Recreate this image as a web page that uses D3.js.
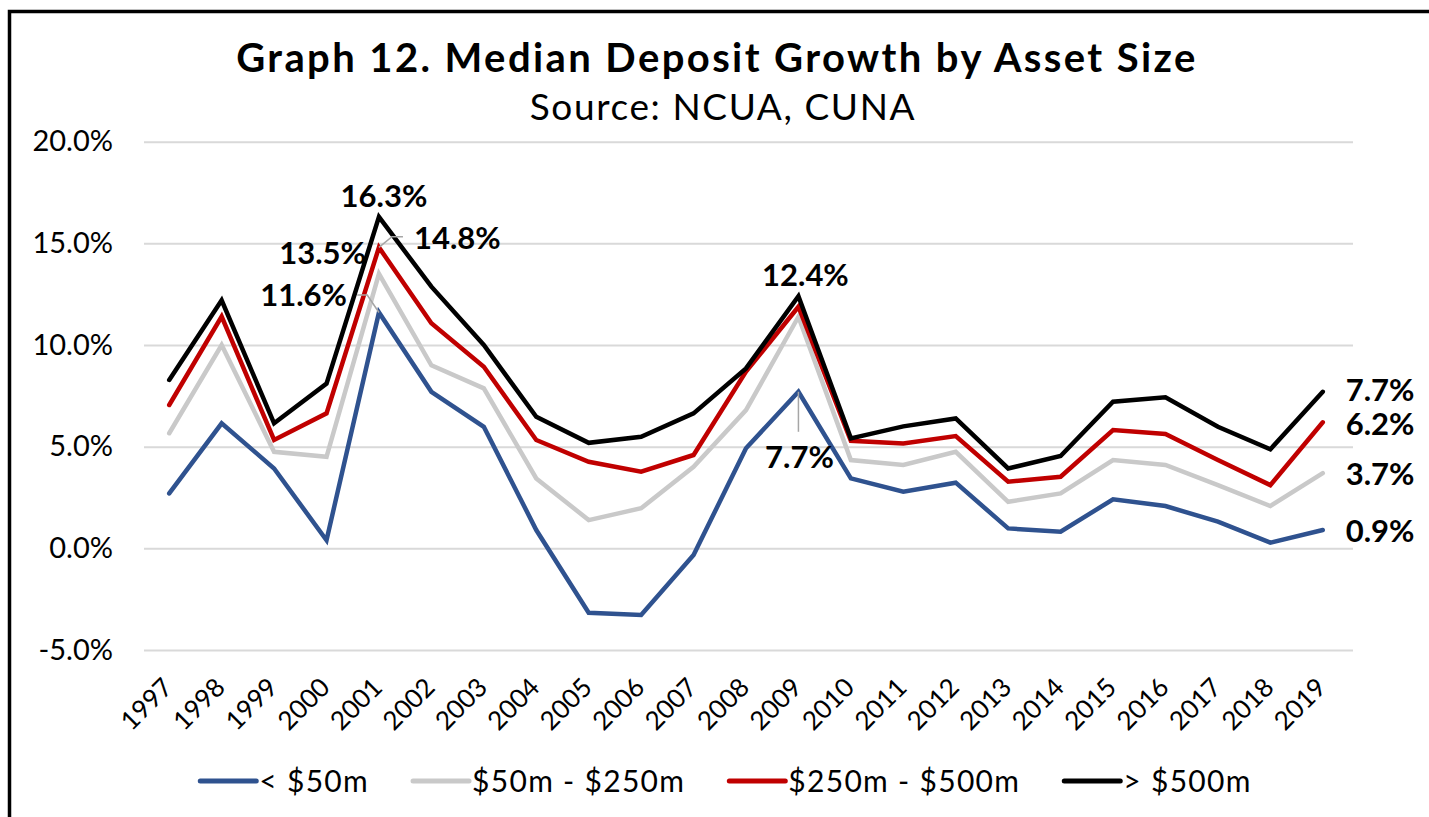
<!DOCTYPE html>
<html>
<head>
<meta charset="utf-8">
<script src="https://cdn.jsdelivr.net/npm/d3@7"></script>
<style>
  body { margin: 0; background: #fff; }
  text { font-family: Lato, "Open Sans", sans-serif; fill: #000; }
</style>
</head>
<body>
<div id="chart"></div>
<script>
// values (percent)
const years = ["1997", "1998", "1999", "2000", "2001", "2002", "2003", "2004", "2005", "2006", "2007", "2008",
               "2009", "2010", "2011", "2012", "2013", "2014", "2015", "2016", "2017", "2018", "2019"];
const under50m = [2.7, 6.15, 3.93, 0.4, 11.6, 7.7, 5.98, 0.9, -3.17, -3.28, -0.33, 4.92,
                  7.7, 3.44, 2.79, 3.23, 0.98, 0.82, 2.41, 2.08, 1.31, 0.28, 0.9];
const from50to250m = [5.66, 10.0, 4.75, 4.5, 13.5, 9.0, 7.87, 3.44, 1.39, 1.97, 4.01, 6.8,
                      11.39, 4.34, 4.1, 4.75, 2.29, 2.7, 4.34, 4.1, 3.11, 2.08, 3.7];
const from250to500m = [7.05, 11.4, 5.33, 6.64, 14.8, 11.07, 8.93, 5.33, 4.26, 3.77, 4.59, 8.69,
                       11.88, 5.29, 5.16, 5.52, 3.28, 3.52, 5.82, 5.62, 4.34, 3.11, 6.2];
const over500m = [8.28, 12.2, 6.15, 8.1, 16.3, 12.87, 10.0, 6.47, 5.19, 5.49, 6.64, 8.85,
                  12.4, 5.41, 6.0, 6.39, 3.93, 4.54, 7.21, 7.43, 5.98, 4.87, 7.7];
const seriesNames = ["< $50m", "$50m - $250m", "$250m - $500m", "> $500m"];
const yTicks = [-5, 0, 5, 10, 15, 20];

const colors = ["#2f528f", "#c9c9c9", "#c00000", "#000000"];

// which points carry a data label, and where the label sits relative to the point
const labelLayout = [
  { s: 3, year: "2001", dx: 5, dy: -10, anchor: "middle" },
  { s: 2, year: "2001", dx: 35, dy: 1.5, anchor: "start", leader: [[0, 0], [13, -10.7], [24, -10.7]] },
  { s: 1, year: "2001", dx: -13, dy: -10, anchor: "end" },
  { s: 0, year: "2001", dx: -32, dy: -6.5, anchor: "end", leader: [[0, 0], [-11.7, -17.4], [-21.7, -17.4]] },
  { s: 3, year: "2009", dx: 7, dy: -10.7, anchor: "middle" },
  { s: 0, year: "2009", dx: 1, dy: 76.7, anchor: "middle", leader: [[0, 0], [0, 40]] },
  { s: 3, year: "2019", dx: 23, dy: 8.8, anchor: "start" },
  { s: 2, year: "2019", dx: 23, dy: 13, anchor: "start" },
  { s: 1, year: "2019", dx: 23, dy: 11.6, anchor: "start" },
  { s: 0, year: "2019", dx: 23, dy: 11.6, anchor: "start" }
];

const series = [under50m, from50to250m, from250to500m, over500m].map((values, i) => ({
  name: seriesNames[i], color: colors[i], values: values
}));

const pct = (d) => (d < 0 ? "-" : "") + d3.format(".1f")(Math.abs(d)) + "%";

const w = 1429;
const h = 817;

const svg = d3.select("#chart")
  .append("svg")
  .attr("width", w)
  .attr("height", h);

// frame (runs off the right and bottom of the picture)
svg.append("rect")
  .attr("x", 9.5).attr("y", 11.5)
  .attr("width", 1600).attr("height", 1000)
  .attr("fill", "none")
  .attr("stroke", "#000")
  .attr("stroke-width", 3.5);

// titles
svg.append("text")
  .attr("x", 717).attr("y", 72)
  .attr("text-anchor", "middle")
  .style("font-size", "40px").style("font-weight", "bold")
  .style("letter-spacing", "2.4px")
  .text("Graph 12. Median Deposit Growth by Asset Size");
svg.append("text")
  .attr("x", 723).attr("y", 120)
  .attr("text-anchor", "middle")
  .style("font-size", "37px")
  .style("letter-spacing", "1.6px")
  .text("Source: NCUA, CUNA");

// scales
const plotLeft = 143, plotRight = 1353;
const xScale = d3.scaleBand()
  .domain(years)
  .range([plotLeft, 1349]);
const xPos = (yr) => xScale(yr) + xScale.bandwidth() / 2;

const yScale = d3.scaleLinear()
  .domain([-5, 20])
  .range([650, 141.7]);

// gridlines
const grid = svg.append("g")
  .attr("transform", `translate(${plotLeft + 1},0)`)
  .call(d3.axisLeft(yScale).tickValues(yTicks).tickSize(-(plotRight - plotLeft - 1)).tickFormat(""));
grid.select(".domain").remove();
grid.selectAll(".tick line").attr("stroke", "#d9d9d9").attr("stroke-width", 2);

// y axis labels
const yAxis = svg.append("g")
  .attr("transform", `translate(${plotLeft},0)`)
  .call(d3.axisLeft(yScale).tickValues(yTicks).tickSize(0).tickPadding(30).tickFormat(pct));
yAxis.select(".domain").remove();
yAxis.selectAll("text").style("font-size", "29px").attr("fill", "#000");

// x axis labels, rotated
const xAxis = svg.append("g")
  .attr("transform", `translate(0,650)`)
  .call(d3.axisBottom(xScale).tickSize(0));
xAxis.select(".domain").remove();
xAxis.selectAll("text")
  .attr("x", 0).attr("y", 0).attr("dy", 0)
  .attr("text-anchor", "end")
  .attr("transform", "translate(5,39) rotate(-45)")
  .style("font-size", "26px").attr("fill", "#000");

// lines
const lineGenerator = d3.line()
  .x((d, i) => xPos(years[i]))
  .y((d) => yScale(d));

svg.selectAll(".series")
  .data(series)
  .enter()
  .append("path")
  .attr("class", "series")
  .attr("d", (d) => lineGenerator(d.values))
  .attr("fill", "none")
  .attr("stroke", (d) => d.color)
  .attr("stroke-width", 4.5)
  .attr("stroke-linejoin", "miter")
  .attr("stroke-linecap", "round");

// data labels and leader lines
const labels = svg.append("g");
labelLayout.forEach((l) => {
  const i = years.indexOf(l.year);
  const v = series[l.s].values[i];
  const px = xPos(l.year);
  const py = yScale(v);
  if (l.leader) {
    labels.append("path")
      .attr("d", d3.line()(l.leader.map((p) => [px + p[0], py + p[1]])))
      .attr("fill", "none")
      .attr("stroke", "#a6a6a6")
      .attr("stroke-width", 1.5);
  }
  labels.append("text")
    .attr("x", px + l.dx)
    .attr("y", py + l.dy)
    .attr("text-anchor", l.anchor)
    .style("font-size", "31px").style("font-weight", "bold")
    .text(pct(v));
});

// legend
const legend = svg.append("g").attr("transform", "translate(0,781)");
let lx = 0;
series.forEach((s) => {
  const item = legend.append("g").attr("transform", `translate(${lx},0)`);
  item.append("line")
    .attr("x1", 0).attr("x2", 56)
    .attr("y1", 0).attr("y2", 0)
    .attr("stroke", s.color)
    .attr("stroke-width", 5)
    .attr("stroke-linecap", "round");
  const t = item.append("text")
    .attr("x", 59).attr("dy", "0.35em")
    .style("font-size", "30px")
    .style("letter-spacing", "1.3px")
    .text(s.name);
  lx += 59 + t.node().getComputedTextLength() + 44;
});
lx -= 44;
legend.attr("transform", `translate(${726 - lx / 2},781)`);
</script>
</body>
</html>
